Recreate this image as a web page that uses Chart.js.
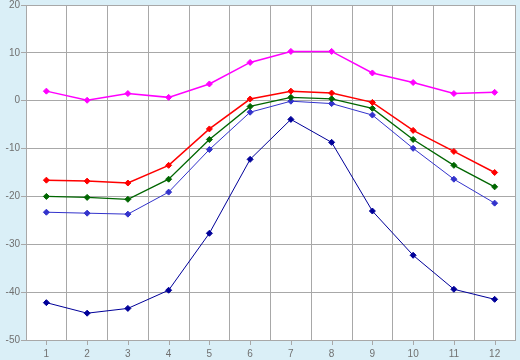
<!DOCTYPE html>
<html>
<head>
<meta charset="utf-8">
<script src="https://cdn.jsdelivr.net/npm/chart.js@4/dist/chart.umd.min.js"></script>
<style>
  html, body { margin: 0; padding: 0; background: #daeff7; }
  canvas { display: block; }
</style>
</head>
<body>
<canvas id="chart" width="520" height="360"></canvas>
<script>
const months = ['1', '2', '3', '4', '5', '6', '7', '8', '9', '10', '11', '12'];
const magentaValues = [2.0, 0.1, 1.5, 0.7, 3.5, 8.0, 10.3, 10.3, 5.8, 3.8, 1.5, 1.75];
const redValues = [-16.6, -16.8, -17.2, -13.5, -5.9, 0.35, 2.0, 1.6, -0.35, -6.2, -10.6, -15.0];
const greenValues = [-20.0, -20.2, -20.6, -16.4, -8.1, -1.2, 0.7, 0.4, -1.6, -8.1, -13.5, -18.0];
const blueValues = [-23.3, -23.5, -23.7, -19.1, -10.2, -2.4, -0.1, -0.6, -3.0, -9.95, -16.4, -21.4];
const navyValues = [-42.2, -44.4, -43.4, -39.6, -27.7, -12.25, -3.9, -8.7, -23.05, -32.3, -39.4, -41.5];

const gridColor = '#a8a8a8';
const tickColor = '#707070';

function series(data, color, width) {
    return {
        data: data,
        borderColor: color,
        backgroundColor: color,
        borderWidth: width,
        pointStyle: 'rectRot',
        pointRadius: 3,
        pointBorderWidth: 1,
        tension: 0,
    };
}

// light blue page, white plot area, x tick marks under the labels
const frame = {
    id: 'frame',
    beforeDraw(chart) {
        const ctx = chart.ctx;
        const a = chart.chartArea;
        ctx.save();
        ctx.fillStyle = '#daeff7';
        ctx.fillRect(0, 0, chart.width, chart.height);
        ctx.fillStyle = '#ffffff';
        ctx.fillRect(a.left, a.top, a.right - a.left, a.bottom - a.top);
        ctx.restore();
    },
    afterDraw(chart) {
        const ctx = chart.ctx;
        const x = chart.scales.x;
        ctx.save();
        ctx.strokeStyle = gridColor;
        ctx.lineWidth = 1;
        ctx.beginPath();
        for (let i = 0; i < months.length; i++) {
            const px = Math.round(x.getPixelForTick(i)) + 0.5;
            ctx.moveTo(px, x.top);
            ctx.lineTo(px, x.top + 5);
        }
        ctx.stroke();
        ctx.restore();
    }
};

new Chart(document.getElementById('chart'), {
    type: 'line',
    data: {
        labels: months,
        datasets: [
            series(magentaValues, '#ff00ff', 1.5),
            series(redValues, '#ff0000', 1.5),
            series(greenValues, '#006600', 1.3),
            series(blueValues, '#3333cc', 1),
            series(navyValues, '#000099', 1),
        ],
    },
    options: {
        responsive: false,
        animation: false,
        layout: {
            padding: { top: 4, right: 5, left: 0, bottom: 0 }
        },
        plugins: {
            legend: { display: false },
            tooltip: { enabled: false },
        },
        scales: {
            x: {
                offset: true,
                grid: {
                    offset: true,
                    color: gridColor,
                    drawTicks: false,
                },
                border: { color: gridColor },
                ticks: {
                    color: tickColor,
                    padding: 8,
                    maxRotation: 0,
                    font: { family: 'Liberation Sans', size: 10 },
                },
                afterFit: function (axis) {
                    axis.height = 20;
                    axis.paddingLeft = 0;
                    axis.paddingRight = 0;
                },
            },
            y: {
                min: -50,
                max: 20,
                grid: {
                    color: gridColor,
                    tickLength: 5,
                },
                border: { color: gridColor },
                ticks: {
                    stepSize: 10,
                    color: tickColor,
                    padding: 1,
                    font: { family: 'Liberation Sans', size: 10 },
                },
                afterFit: function (axis) {
                    axis.width = 26;
                    axis.paddingTop = 0;
                    axis.paddingBottom = 0;
                },
            },
        },
    },
    plugins: [frame],
});
</script>
</body>
</html>
